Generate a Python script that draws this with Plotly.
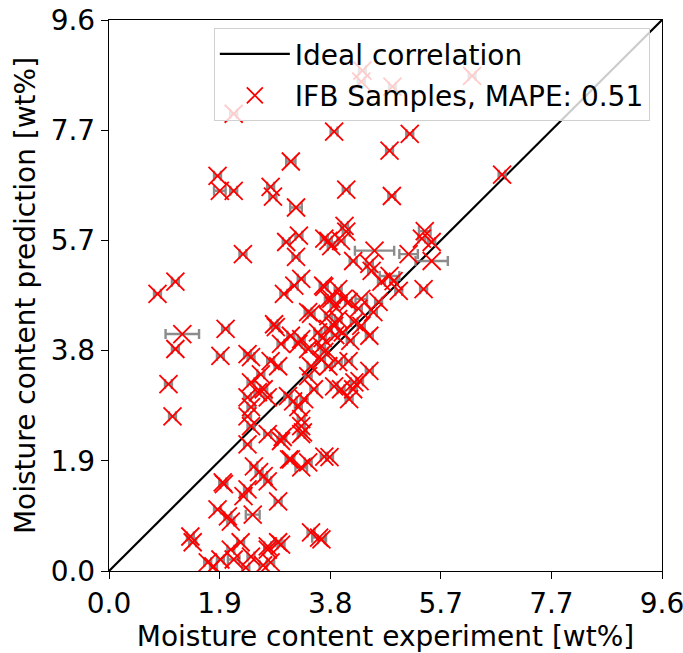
import plotly.graph_objects as go
import numpy as np

# Experimental (x) and predicted (y) moisture content [wt%]
exp_vals = [4.39, 4.37, 4.91, 6.29, 2.16, 5.21, 3.90, 4.86, 3.15, 4.11,
            4.90, 6.81, 1.88, 1.92, 2.16, 2.80, 2.84, 3.24, 2.32, 3.07,
            3.29, 3.24, 3.73, 4.08, 4.11, 3.80, 4.02, 3.85, 4.60, 4.23,
            4.51, 4.55, 4.86, 4.93, 5.02, 4.72, 5.45, 5.19, 5.47, 5.42,
            5.59, 5.59, 3.73, 3.97, 4.06, 3.85, 3.90, 4.15, 4.37, 4.32,
            4.67, 4.58, 3.80, 3.97, 4.25, 4.37, 3.33, 3.21, 3.03, 3.71,
            3.50, 3.45, 3.80, 2.86, 2.02, 1.93, 2.40, 2.46, 2.89, 2.98,
            3.15, 3.28, 3.33, 3.45, 3.62, 2.80, 2.93, 2.63, 2.46, 2.58,
            2.68, 2.75, 2.40, 2.46, 2.40, 2.46, 2.75, 3.01, 3.10, 3.19,
            3.28, 3.38, 3.33, 3.33, 3.33, 3.55, 3.45, 3.50, 3.68, 3.68,
            4.51, 4.15, 4.51, 3.97, 3.80, 4.02, 4.25, 4.34, 4.16, 4.23,
            3.90, 3.73, 3.90, 2.40, 2.98, 3.15, 3.33, 3.45, 3.73, 2.51,
            2.60, 2.68, 2.75, 1.99, 2.40, 2.33, 2.93, 1.88, 2.06, 2.11,
            2.49, 3.50, 3.64, 2.28, 2.11, 2.93, 2.75, 2.46, 1.93, 1.71,
            2.16, 2.80, 0.84, 1.15, 1.27, 1.15, 1.03, 1.10, 1.41, 1.45,
            1.97, 1.81, 2.75, 2.98, 3.68, 3.82, 3.12, 3.36, 2.37, 2.67,
            3.80, 3.92, 4.05, 3.70, 4.18]
pred_vals = [8.70, 8.51, 8.42, 8.61, 7.95, 7.60, 7.64, 7.31, 7.12, 6.63,
             6.52, 6.89, 6.87, 6.61, 6.61, 6.68, 6.51, 6.32, 5.51, 5.72,
             5.83, 5.46, 5.78, 6.00, 5.90, 5.74, 5.74, 5.65, 5.57, 5.39,
             5.34, 5.22, 5.13, 5.04, 4.87, 5.03, 4.90, 5.51, 5.91, 5.78,
             5.72, 5.39, 4.94, 4.90, 4.73, 4.73, 4.61, 4.68, 4.73, 4.56,
             4.68, 4.50, 4.43, 4.38, 4.33, 4.26, 5.08, 4.96, 4.82, 4.96,
             4.47, 4.50, 4.73, 4.29, 4.21, 3.74, 3.77, 3.72, 4.24, 3.95,
             4.09, 3.95, 4.03, 3.86, 4.15, 3.65, 3.56, 3.42, 3.28, 3.11,
             3.16, 3.02, 3.02, 2.85, 2.69, 2.52, 2.38, 2.33, 3.04, 2.95,
             2.85, 2.99, 2.64, 2.52, 2.38, 3.16, 3.39, 3.56, 3.68, 3.91,
             4.09, 3.65, 3.48, 3.63, 3.56, 3.16, 3.28, 3.30, 2.99, 3.16,
             3.21, 3.81, 4.26, 2.20, 2.26, 1.94, 1.80, 1.89, 1.99, 1.82,
             1.72, 1.65, 1.56, 1.51, 1.42, 1.30, 1.21, 1.07, 0.95, 0.86,
             0.98, 0.67, 0.58, 0.50, 0.37, 0.50, 0.37, 0.25, 0.20, 0.15,
             0.20, 0.15, 4.82, 5.03, 4.12, 3.86, 3.25, 2.69, 0.60, 0.50,
             1.54, 0.08, 0.43, 0.46, 0.55, 1.98, 1.94, 2.41, 0.06, 0.10,
             4.21, 4.10, 4.15, 4.05, 4.00]
exp_err = [0.06, 0.06, 0.06, 0.06, 0.06, 0.06, 0.06, 0.06, 0.08, 0.06,
           0.06, 0.06, 0.06, 0.10, 0.06, 0.06, 0.06, 0.10, 0.06, 0.06,
           0.06, 0.06, 0.06, 0.06, 0.06, 0.06, 0.06, 0.06, 0.34, 0.06,
           0.06, 0.06, 0.17, 0.06, 0.06, 0.06, 0.06, 0.16, 0.10, 0.06,
           0.06, 0.28, 0.06, 0.06, 0.06, 0.06, 0.06, 0.06, 0.10, 0.06,
           0.06, 0.06, 0.06, 0.06, 0.06, 0.06, 0.06, 0.06, 0.06, 0.06,
           0.06, 0.06, 0.06, 0.06, 0.06, 0.06, 0.06, 0.06, 0.06, 0.06,
           0.06, 0.06, 0.06, 0.06, 0.06, 0.06, 0.06, 0.06, 0.06, 0.06,
           0.06, 0.06, 0.06, 0.06, 0.06, 0.06, 0.06, 0.06, 0.06, 0.06,
           0.06, 0.06, 0.06, 0.06, 0.06, 0.06, 0.06, 0.06, 0.06, 0.06,
           0.06, 0.06, 0.06, 0.06, 0.06, 0.06, 0.06, 0.06, 0.06, 0.06,
           0.06, 0.06, 0.06, 0.06, 0.06, 0.06, 0.10, 0.06, 0.06, 0.06,
           0.06, 0.06, 0.06, 0.06, 0.06, 0.06, 0.06, 0.06, 0.06, 0.06,
           0.12, 0.06, 0.12, 0.06, 0.06, 0.06, 0.06, 0.06, 0.06, 0.06,
           0.10, 0.06, 0.06, 0.06, 0.29, 0.06, 0.06, 0.06, 0.06, 0.06,
           0.06, 0.06, 0.06, 0.06, 0.06, 0.06, 0.06, 0.06, 0.06, 0.06,
           0.06, 0.06, 0.06, 0.06, 0.06]

axis_max = 9.58
tick_vals = list(np.linspace(0, axis_max, 6))
tick_text = ["0.0", "1.9", "3.8", "5.7", "7.7", "9.6"]

font = "DejaVu Sans"
fsize = 28

fig = go.Figure()
fig.add_trace(go.Scatter(
    x=[0, axis_max], y=[0, axis_max], mode="lines",
    line=dict(color="black", width=2.2),
    name="Ideal correlation", legendgroup="a"))
fig.add_trace(go.Scatter(
    x=exp_vals, y=pred_vals, mode="markers",
    marker=dict(symbol="x-thin", size=18, color="red",
                line=dict(color="red", width=1.8)),
    error_x=dict(type="data", array=exp_err, visible=True,
                 color="rgba(128,128,128,0.9)", thickness=2.4, width=5),
    name="IFB Samples, MAPE: 0.51", legendgroup="b"))

axis_common = dict(
    range=[0, axis_max], tickvals=tick_vals, ticktext=tick_text,
    showgrid=False, zeroline=False, showline=True, mirror=True,
    linecolor="black", linewidth=1.4, ticks="outside", ticklen=7,
    tickwidth=1.4, tickcolor="black", ticklabeloverflow="allow",
    automargin=False,
    tickfont=dict(family=font, size=fsize, color="black"),
)

fig.update_layout(
    width=683, height=653,
    margin=dict(l=109, r=21, t=20, b=82, autoexpand=False),
    paper_bgcolor="white", plot_bgcolor="white",
    font=dict(family=font, size=fsize, color="black"),
    xaxis=dict(**axis_common,
               title=dict(text="Moisture content experiment [wt%]",
                          font=dict(family=font, size=fsize, color="black"),
                          standoff=4)),
    yaxis=dict(**axis_common,
               title=dict(text="Moisture content prediction [wt%]",
                          font=dict(family=font, size=fsize, color="black"),
                          standoff=6)),
    legend=dict(x=0.978, y=0.985, xanchor="right", yanchor="top",
                bgcolor="rgba(255,255,255,0.8)", bordercolor="#d0d0d0",
                borderwidth=1, font=dict(family=font, size=fsize, color="black"),
                itemwidth=70, tracegroupgap=2, traceorder="grouped"),
    showlegend=True,
)

fig.write_html("out.html")
